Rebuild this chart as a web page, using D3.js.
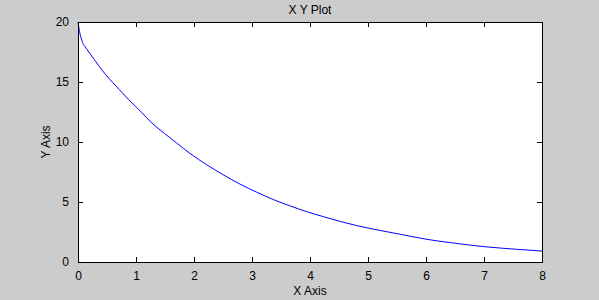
<!DOCTYPE html>
<html>
<head>
<meta charset="utf-8">
<script src="https://cdn.jsdelivr.net/npm/d3@7"></script>
<style>
  html, body { margin: 0; padding: 0; background: #cccccc; }
  svg { display: block; font-family: "Liberation Sans", Arial, sans-serif; }
</style>
</head>
<body>
<svg id="chart" width="599" height="300"></svg>
<script>
// values
let xValues = [0, 0.02, 0.05, 0.08, 0.14, 0.2, 0.28, 0.37, 0.48, 0.6, 0.71, 0.87, 1.10, 1.27, 1.49, 1.70,
  1.93, 2.22, 2.51, 2.79, 3.08, 3.37, 3.66, 3.94, 4.23, 4.52, 4.80, 5.09, 5.36, 5.55,
  6.0, 6.41, 7.0, 7.56, 8.0];
let yValues = [20, 19.4, 18.72, 18.28, 17.82, 17.4, 16.88, 16.28, 15.6, 14.95, 14.38, 13.55, 12.45, 11.6, 10.72, 9.92,
  9.05, 8.1, 7.25, 6.5, 5.82, 5.2, 4.67, 4.2, 3.78, 3.38, 3.04, 2.74, 2.49, 2.32,
  1.9, 1.62, 1.28, 1.06, 0.91];
let xTicks = [0, 1, 2, 3, 4, 5, 6, 7, 8];
let yTicks = [0, 5, 10, 15, 20];

let titleText = 'X Y Plot';
let xLabel = 'X Axis';
let yLabel = 'Y Axis';

let svg = d3.select('#chart');
let plotLeft = 78, plotRight = 542, plotTop = 22, plotBottom = 262;

let scaleX = d3.scaleLinear().domain([0, 8]).range([plotLeft, plotRight]);
let scaleY = d3.scaleLinear().domain([0, 20]).range([plotBottom, plotTop]);

// plot area
svg.append('rect')
    .attr('x', plotLeft).attr('y', plotTop)
    .attr('width', plotRight - plotLeft).attr('height', plotBottom - plotTop)
    .attr('fill', '#ffffff');

// curve
let points = xValues.map((x, i) => [x, yValues[i]]);
svg.append('path')
    .datum(points)
    .attr('fill', 'none')
    .attr('stroke', '#0000ff')
    .attr('stroke-width', 1)
    .attr('d', d3.line()
        .x(d => scaleX(d[0]))
        .y(d => scaleY(d[1]))
        .curve(d3.curveMonotoneX));

// axes with ticks pointing inward
let styleAxis = function(g) {
  g.attr('shape-rendering', 'crispEdges');
  g.selectAll('path, line').attr('stroke', '#000000');
  g.selectAll('text').attr('fill', '#000000').style('font-size', '12px');
};

svg.append('g')
    .attr('transform', `translate(0,${plotBottom})`)
    .call(d3.axisBottom(scaleX).tickValues(xTicks).tickSizeInner(-5).tickSizeOuter(0).tickPadding(9))
    .call(styleAxis);

svg.append('g')
    .attr('transform', `translate(0,${plotTop})`)
    .call(d3.axisTop(scaleX).tickValues(xTicks).tickSizeInner(-5).tickSizeOuter(0).tickFormat(''))
    .call(styleAxis);

svg.append('g')
    .attr('transform', `translate(${plotLeft},0)`)
    .call(d3.axisLeft(scaleY).tickValues(yTicks).tickSizeInner(-5).tickSizeOuter(0).tickPadding(9))
    .call(styleAxis);

svg.append('g')
    .attr('transform', `translate(${plotRight},0)`)
    .call(d3.axisRight(scaleY).tickValues(yTicks).tickSizeInner(-5).tickSizeOuter(0).tickFormat(''))
    .call(styleAxis);

// title and labels
svg.append('text')
    .attr('x', (plotLeft + plotRight) / 2).attr('y', 14)
    .attr('text-anchor', 'middle')
    .style('font-size', '12px')
    .text(titleText);

svg.append('text')
    .attr('x', (plotLeft + plotRight) / 2).attr('y', 295)
    .attr('text-anchor', 'middle')
    .style('font-size', '12px')
    .text(xLabel);

svg.append('text')
    .attr('transform', `translate(50,${(plotTop + plotBottom) / 2}) rotate(-90)`)
    .attr('text-anchor', 'middle')
    .style('font-size', '12px')
    .text(yLabel);
</script>
</body>
</html>
